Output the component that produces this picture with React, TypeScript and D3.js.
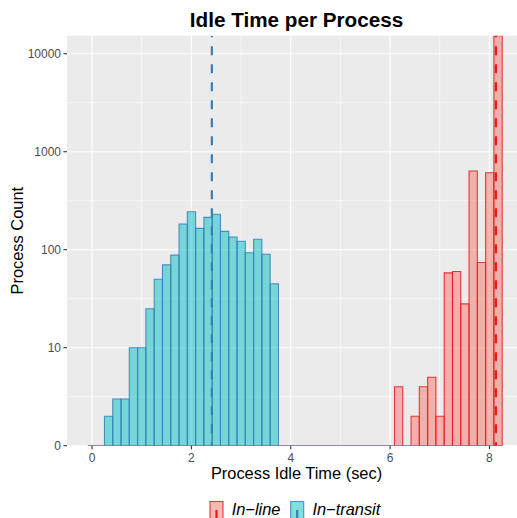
import React from 'react';
import * as d3 from 'd3';

// histogram: 50 shared bins, first bin centred on 0
const binStart = -0.0834;
const binWidth = 0.1668;

const groups = ['In\u2212line', 'In\u2212transit'];

// counts per bin (index 0..49)
const inLineCounts = [
  0, 0, 0, 0, 0, 0, 0, 0, 0, 0,
  0, 0, 0, 0, 0, 0, 0, 0, 0, 0,
  0, 0, 0, 0, 0, 0, 0, 0, 0, 0,
  0, 0, 0, 0, 0, 0, 0, 4, 0, 2,
  4, 5, 2, 58, 60, 28, 635, 74, 611, 15270,
];
const inTransitCounts = [
  0, 0, 2, 3, 3, 10, 10, 25, 50, 70,
  88, 183, 244, 165, 214, 230, 154, 135, 122, 93,
  128, 90, 45, 0, 0, 0, 0, 0, 0, 0,
  0, 0, 0, 0, 0, 0, 0, 0, 0, 0,
  0, 0, 0, 0, 0, 0, 0, 0, 0, 0,
];

// mean idle time per group (dashed lines)
const means = [8.13, 2.412];

const xTicks = [0, 2, 4, 6, 8];
const xMinor = [1, 3, 5, 7];
const yTicks = [1, 10, 100, 1000, 10000];
const yTickLabels = ['0', '10', '100', '1000', '10000'];
const yMinor = [3.162, 31.62, 316.2, 3162];

const fills = ['#F8766D', '#00BFC4'];
const strokes = ['#E41A1C', '#377EB8'];

const W = 517;
const H = 518;
const panel = { left: 67, right: 526, top: 35.7, bottom: 445.7 };
const font = '"Liberation Sans", Arial, Helvetica, sans-serif';

export default function App() {
  const x = d3.scaleLinear().domain([-0.504, 8.736]).range([panel.left, panel.right]);
  const maxCount = d3.max([...inLineCounts, ...inTransitCounts]) as number;
  const y = d3.scaleLog().domain([1, maxCount]).range([panel.bottom, panel.top]);
  const yv = (v: number) => (v <= 1 ? panel.bottom : y(v));

  const barPath = (i: number, c: number) => {
    const p = d3.path();
    const x0 = x(binStart + i * binWidth);
    const x1 = x(binStart + (i + 1) * binWidth);
    const y1 = yv(c);
    p.moveTo(x0, panel.bottom);
    p.lineTo(x0, y1);
    p.lineTo(x1, y1);
    p.lineTo(x1, panel.bottom);
    p.closePath();
    return p.toString();
  };

  const series = [inLineCounts, inTransitCounts];

  return (
    <div style={{ position: 'absolute', left: 0, top: 0 }}>
      <svg width={W} height={H} style={{ display: 'block', fontFamily: font }}>
        <rect width={W} height={H} fill="#fff" />
        <defs>
          <clipPath id="panel">
            <rect x={panel.left} y={panel.top} width={panel.right - panel.left} height={panel.bottom - panel.top} />
          </clipPath>
        </defs>
        <rect x={panel.left} y={panel.top} width={panel.right - panel.left} height={panel.bottom - panel.top} fill="#EBEBEB" />
        {yMinor.map((v) => (
          <line key={'ym' + v} x1={panel.left} x2={panel.right} y1={y(v)} y2={y(v)} stroke="#fff" strokeWidth={0.55} />
        ))}
        {xMinor.map((v) => (
          <line key={'xm' + v} x1={x(v)} x2={x(v)} y1={panel.top} y2={panel.bottom} stroke="#fff" strokeWidth={0.55} />
        ))}
        {yTicks.map((v) => (
          <line key={'yg' + v} x1={panel.left} x2={panel.right} y1={y(v)} y2={y(v)} stroke="#fff" strokeWidth={1.1} />
        ))}
        {xTicks.map((v) => (
          <line key={'xg' + v} x1={x(v)} x2={x(v)} y1={panel.top} y2={panel.bottom} stroke="#fff" strokeWidth={1.1} />
        ))}

        <g clipPath="url(#panel)">
          {series.map((counts, g) => (
            <g key={'s' + g}>
              {counts.map((c, i) => (
                <path
                  key={i}
                  d={barPath(i, c)}
                  fill={fills[g]}
                  fillOpacity={0.5}
                  stroke={strokes[g]}
                  strokeOpacity={0.85}
                  strokeWidth={1.1}
                />
              ))}
            </g>
          ))}
          {means.map((m, g) => (
            <line
              key={'m' + g}
              x1={x(m)}
              x2={x(m)}
              y1={panel.top}
              y2={panel.bottom}
              stroke={strokes[g]}
              strokeWidth={2.2}
              strokeDasharray="9,9"
              strokeDashoffset={7.5}
            />
          ))}
        </g>

        {/* y axis */}
        {yTicks.map((v, i) => (
          <g key={'yt' + v}>
            <line x1={panel.left - 3.6} x2={panel.left} y1={y(v)} y2={y(v)} stroke="#333" strokeWidth={1.1} />
            <text x={panel.left - 6} y={y(v)} dy="0.35em" textAnchor="end" fontSize={12} fill="#4D4D4D">
              {yTickLabels[i]}
            </text>
          </g>
        ))}
        {/* x axis */}
        {xTicks.map((v) => (
          <g key={'xt' + v}>
            <line x1={x(v)} x2={x(v)} y1={panel.bottom} y2={panel.bottom + 3.6} stroke="#333" strokeWidth={1.1} />
            <text x={x(v)} y={462} textAnchor="middle" fontSize={12} fill="#4D4D4D">
              {v}
            </text>
          </g>
        ))}

        <text x={(panel.left + panel.right) / 2} y={26.5} textAnchor="middle" fontSize={20.7} fontWeight="bold" fill="#000">
          Idle Time per Process
        </text>
        <text x={(panel.left + panel.right) / 2} y={479} textAnchor="middle" fontSize={16.4} fill="#000">
          Process Idle Time (sec)
        </text>
        <text
          transform={`translate(23,${(panel.top + panel.bottom) / 2}) rotate(-90)`}
          textAnchor="middle"
          fontSize={16.4}
          fill="#000"
        >
          Process Count
        </text>

        {/* legend */}
        {groups.map((name, g) => {
          const kx = g === 0 ? 210 : 290.7;
          return (
            <g key={'lg' + g}>
              <rect x={kx} y={501.5} width={13} height={17} fill={fills[g]} fillOpacity={0.5} stroke={strokes[g]} strokeOpacity={0.85} strokeWidth={1.1} />
              <line x1={kx + 6.5} x2={kx + 6.5} y1={510} y2={518} stroke={strokes[g]} strokeWidth={2.2} />
              <text x={kx + 21.7} y={515} fontSize={16.4} fontStyle="italic" fill="#000">
                {name}
              </text>
            </g>
          );
        })}
      </svg>
    </div>
  );
}
